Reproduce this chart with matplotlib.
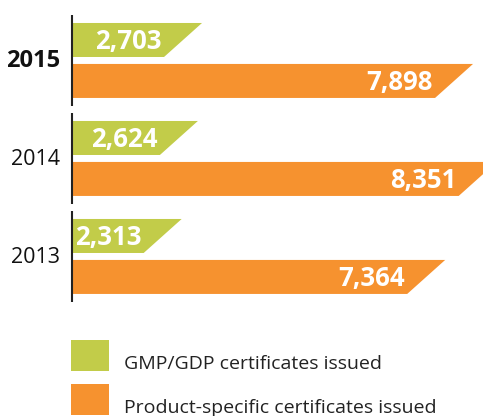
import matplotlib
matplotlib.use("Agg")
import matplotlib.pyplot as plt
from matplotlib.patches import Polygon, Rectangle

# data
years = ["2015", "2014", "2013"]
gmp = [2703, 2624, 2313]
product = [7898, 8351, 7364]
legend_labels = ["GMP/GDP certificates issued", "Product-specific certificates issued"]

green = "#c2cc49"
orange = "#f6922f"

plt.rcParams["font.family"] = ["Open Sans", "DejaVu Sans"]

fig = plt.figure(figsize=(4.83, 4.16), dpi=100)
ax = fig.add_axes([0, 0, 1, 1])
ax.axis("off")

# zero sits a bit left of the year divider line, 1 group = 98 px vertically
ax.set_xlim(-1169, 8089)
ax.set_ylim(3.628, -0.617)

base = 211     # where the divider line is drawn, bars start there
bar_h = 0.347
off = 0.209
slant = 728


def slanted_bar(y, v, color):
    top = y - bar_h / 2
    bot = y + bar_h / 2
    pts = [(base, top), (v, top), (v - slant, bot), (base, bot)]
    ax.add_patch(Polygon(pts, closed=True, facecolor=color, edgecolor="none"))


for i, yr in enumerate(years):
    slanted_bar(i - off, gmp[i], green)
    slanted_bar(i + off, product[i], orange)

    # value labels sit at the lower corner of the slant
    ax.text(gmp[i] - slant - 38, i - off + 0.02, f"{gmp[i]:,}", color="white",
            fontsize=18.5, fontweight="bold", ha="right", va="center")
    ax.text(product[i] - slant - 38, i + off + 0.02, f"{product[i]:,}", color="white",
            fontsize=18.5, fontweight="bold", ha="right", va="center")

    # divider line and year
    ax.plot([base, base], [i - 0.46, i + 0.46], color="#222222", lw=1.5, solid_capstyle="butt")
    ax.text(-20, i + 0.01, yr, fontsize=17 if i == 0 else 15.5, ha="right", va="center",
            fontweight="bold" if i == 0 else "normal", color="#111111")

# legend squares and text
for j, (lab, col) in enumerate(zip(legend_labels, [green, orange])):
    y0 = [0.108, 0.003][j]
    ax.add_patch(Rectangle((0.147, y0), 0.0787, 0.0745, transform=ax.transAxes,
                           facecolor=col, edgecolor="none"))
    ax.text(0.257, y0 + 0.004, lab, transform=ax.transAxes, fontsize=14,
            ha="left", va="baseline", color="#222222")

fig.savefig("out.png", dpi=100)
